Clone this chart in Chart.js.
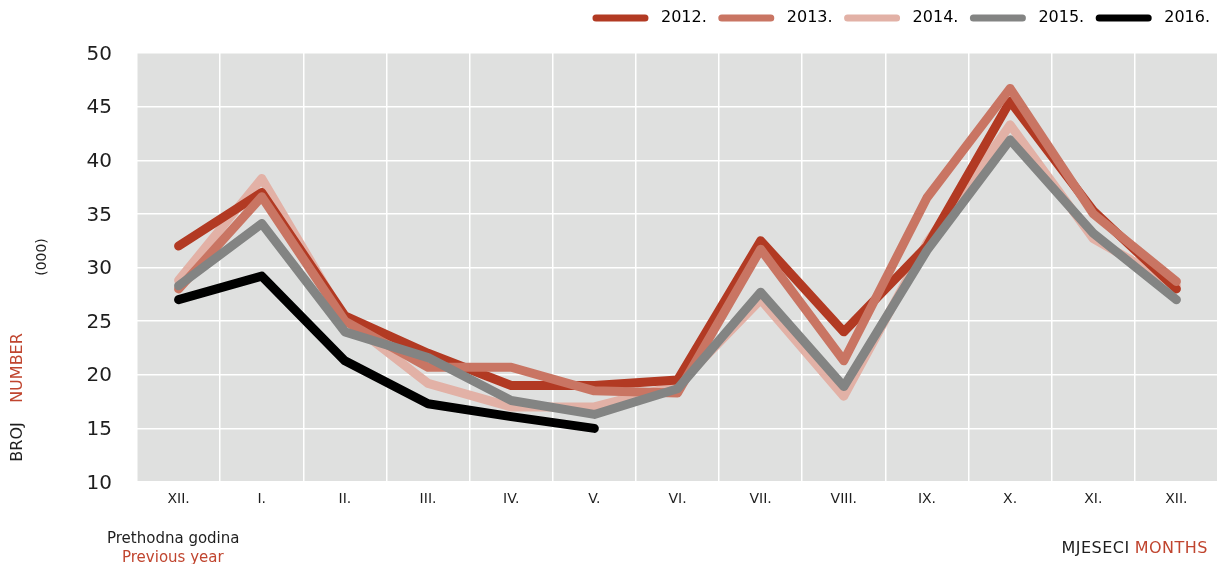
<!DOCTYPE html>
<html>
<head>
<meta charset="utf-8">
<script src="https://cdn.jsdelivr.net/npm/chart.js@4/dist/chart.umd.min.js"></script>
<style>
    html, body { margin: 0; padding: 0; background: #fff; }
    #wrap { width: 1218px; height: 564px; position: relative; }
</style>
</head>
<body>
<div id="wrap"><canvas id="chart"></canvas></div>
<script>
// Data
const months = ['XII.', 'I.', 'II.', 'III.', 'IV.', 'V.', 'VI.', 'VII.', 'VIII.', 'IX.', 'X.', 'XI.', 'XII.'];
const years = ['2012.', '2013.', '2014.', '2015.', '2016.'];
const y2012 = [32, 37, 25.5, 22, 19, 19, 19.5, 32.5, 24, 32, 45.5, 35.3, 28];
const y2013 = [28, 36.6, 25, 20.7, 20.7, 18.5, 18.3, 31.7, 21.3, 36.5, 46.7, 35, 28.7];
const y2014 = [28.8, 38.3, 25.2, 19.2, 17, 17, 19, 27, 18, 32.3, 43.3, 32.7, 28.3];
const y2015 = [28.3, 34.1, 24, 21.6, 17.6, 16.3, 18.7, 27.7, 18.9, 31.6, 41.9, 33.2, 27];
const y2016 = [27, 29.2, 21.3, 17.3, 16.1, 15, null, null, null, null, null, null, null];
const yTicks = [10, 15, 20, 25, 30, 35, 40, 45, 50];

const colors = ['#b23a23', '#c97563', '#e2b1a6', '#838483', '#000000'];
const series = [y2012, y2013, y2014, y2015, y2016];
const drawOrder = [3, 2, 4, 1, 0]; // lower = on top

const FONT = "'DejaVu Sans', sans-serif";
const RED = '#c0452f';
const DARK = '#1e1e1e';

// Plot background
const plotBg = {
    id: 'plotBg',
    beforeDraw(chart) {
        const { ctx, chartArea: a } = chart;
        ctx.save();
        ctx.fillStyle = '#dfe0df';
        ctx.fillRect(a.left, a.top, a.right - a.left, a.bottom - a.top);
        ctx.restore();
    }
};

// Fixed legend height, nudged to the right
const legendFit = {
    id: 'legendFit',
    beforeInit(chart) {
        const fit = chart.legend.fit;
        chart.legend.fit = function () {
            fit.call(this);
            this.height = 58;
        };
    },
    afterUpdate(chart) {
        chart.legend.right += 5;
    }
};

function txt(ctx, s, color, x, y, align) {
    ctx.fillStyle = color;
    ctx.textAlign = align || 'left';
    ctx.fillText(s, x, y);
}

// Side / bottom captions
const captions = {
    id: 'captions',
    afterDraw(chart) {
        const ctx = chart.ctx;
        ctx.save();
        ctx.textBaseline = 'middle';

        ctx.font = '16px ' + FONT;
        ctx.save();
        ctx.translate(18, 0);
        ctx.rotate(-Math.PI / 2);
        txt(ctx, 'BROJ', DARK, -442, 0, 'center');
        txt(ctx, 'NUMBER', RED, -368, 0, 'center');
        ctx.restore();

        ctx.font = '14px ' + FONT;
        ctx.save();
        ctx.translate(42, 257);
        ctx.rotate(-Math.PI / 2);
        txt(ctx, '(000)', DARK, 0, 0, 'center');
        ctx.restore();

        ctx.font = '15px ' + FONT;
        txt(ctx, 'Prethodna godina', DARK, 107, 539);
        txt(ctx, 'Previous year', RED, 122, 558);

        ctx.font = '16px ' + FONT;
        ctx.letterSpacing = '0.5px';
        const w = ctx.measureText('MONTHS').width;
        txt(ctx, 'MONTHS', RED, 1208, 549, 'right');
        txt(ctx, 'MJESECI', DARK, 1208 - w - 5, 549, 'right');
        ctx.restore();
    }
};

const datasets = series.map((data, i) => ({
    label: years[i],
    data: data,
    borderColor: colors[i],
    backgroundColor: colors[i],
    borderWidth: 9,
    borderCapStyle: 'round',
    borderJoinStyle: 'round',
    pointRadius: 0,
    tension: 0,
    spanGaps: false,
    order: drawOrder[i]
}));

new Chart(document.getElementById('chart'), {
    type: 'line',
    data: { labels: months, datasets: datasets },
    options: {
        responsive: true,
        maintainAspectRatio: false,
        animation: false,
        layout: { padding: { top: -5, right: -2, bottom: 0, left: 0 } },
        plugins: {
            tooltip: { enabled: false },
            legend: {
                position: 'top',
                align: 'end',
                labels: {
                    usePointStyle: true,
                    pointStyleWidth: 49,
                    padding: 15,
                    color: DARK,
                    font: { family: FONT, size: 16 },
                    generateLabels: chart => chart.data.datasets.map((ds, i) => ({
                        text: '\u2002' + ds.label,
                        strokeStyle: ds.borderColor,
                        fillStyle: ds.borderColor,
                        lineWidth: 7,
                        lineCap: 'round',
                        pointStyle: 'line',
                        datasetIndex: i,
                        hidden: false
                    }))
                }
            }
        },
        scales: {
            x: {
                offset: true,
                border: { display: false },
                grid: { offset: true, color: '#ffffff', lineWidth: 1.5, drawTicks: false },
                ticks: { color: DARK, padding: 9, font: { family: FONT, size: 14 }, maxRotation: 0, autoSkip: false },
                afterFit: scale => { scale.height = 82; }
            },
            y: {
                min: 10,
                max: 50,
                border: { display: false },
                grid: { color: '#ffffff', lineWidth: 1.5, drawTicks: false },
                afterBuildTicks: scale => { scale.ticks = yTicks.map(v => ({ value: v })); },
                ticks: { color: DARK, padding: 25, labelOffset: 1.5, font: { family: FONT, size: 20 } },
                afterFit: scale => { scale.width = 137; }
            }
        }
    },
    plugins: [plotBg, legendFit, captions]
});
</script>
</body>
</html>
